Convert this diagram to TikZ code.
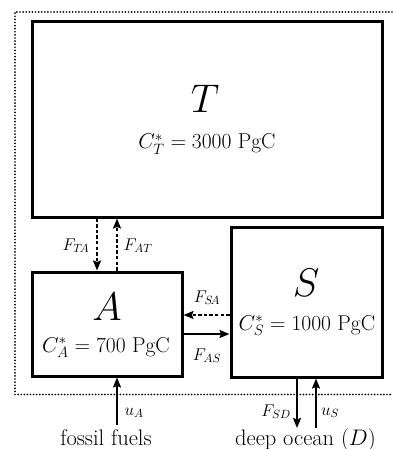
\RequirePackage{fix-cm}
\documentclass[tikz,border=0pt]{standalone}
\usetikzlibrary{arrows.meta}
\tikzset{
  box/.style={draw, line width=3pt, inner sep=0pt, rectangle},
  big/.style={font=\fontsize{40}{42}\selectfont, anchor=base, inner sep=0pt},
  amt/.style={font=\fontsize{21.5}{24}\selectfont, anchor=base, inner sep=0pt},
  flab/.style={font=\fontsize{17}{19}\selectfont, anchor=base, inner sep=0pt},
  bot/.style={font=\fontsize{22.5}{24}\selectfont, anchor=base, inner sep=0pt},
  flow/.style={line width=1.8pt, -{Stealth[length=10pt,width=8pt,inset=1.5pt]}},
  dflow/.style={flow, dash pattern=on 3.4pt off 2.2pt},
  border/.style={line width=1.9pt, line cap=round, dash pattern=on 0pt off 3.1pt}
}
\begin{document}
\begin{tikzpicture}[x=1pt,y=-1pt]
\useasboundingbox (0,0) rectangle (392,449);
% dotted system boundary
\draw[border] (392,12) -- (15,12) -- (15,394.5) -- (392,394.5);
% boxes
\node[box, minimum width=350pt, minimum height=195pt] (T) at (207,119.5) {};
\node[box, minimum width=150pt, minimum height=104pt] (A) at (107,324) {};
\node[box, minimum width=151pt, minimum height=150pt] (S) at (306.5,302) {};
% box texts
\node[big] (Tl) at (205,113) {$T$};
\node[amt] (Tc) at (207,149) {$C_T^* = 3000\ \mathrm{PgC}$};
\node[big] (Al) at (107,320) {$A$};
\node[amt] (Ac) at (106,352) {$C_A^* = 700\ \mathrm{PgC}$};
\node[big] (Sl) at (306,296) {$S$};
\node[amt] (Sc) at (307,330) {$C_S^* = 1000\ \mathrm{PgC}$};
% helper coordinates
\coordinate (ua) at (117,425);
\coordinate (sd) at (297,428);
\coordinate (us) at (316,428);
% flows between boxes
\draw[dflow] (T.south -| 97,0) -- (A.north -| 97,0);
\draw[dflow] (A.north -| 117,0) -- (T.south -| 117,0);
\draw[dflow] (S.west |- 0,315) -- (A.east |- 0,315);
\draw[flow] (A.east |- 0,334) -- (S.west |- 0,334);
\draw[flow] (ua) -- (A.south -| ua);
\draw[flow] (S.south -| sd) -- (sd);
\draw[flow] (us) -- (S.south -| us);
% flow labels
\node[flab] (lta) at (76,250) {$F_{T\!A}$};
\node[flab] (lat) at (138,250) {$F_{AT}$};
\node[flab] (lsa) at (207,302) {$F_{S\!A}$};
\node[flab] (las) at (207,360) {$F_{AS}$};
\node[flab] (lua) at (134,415) {$u_A$};
\node[flab] (lsd) at (276,416) {$F_{SD}$};
\node[flab] (lus) at (330,415) {$u_S$};
% external reservoirs
\node[bot] (ff) at (106,445) {fossil fuels};
\node[bot] (do) at (305.5,445) {deep ocean ($D$)};
\end{tikzpicture}
\end{document}
